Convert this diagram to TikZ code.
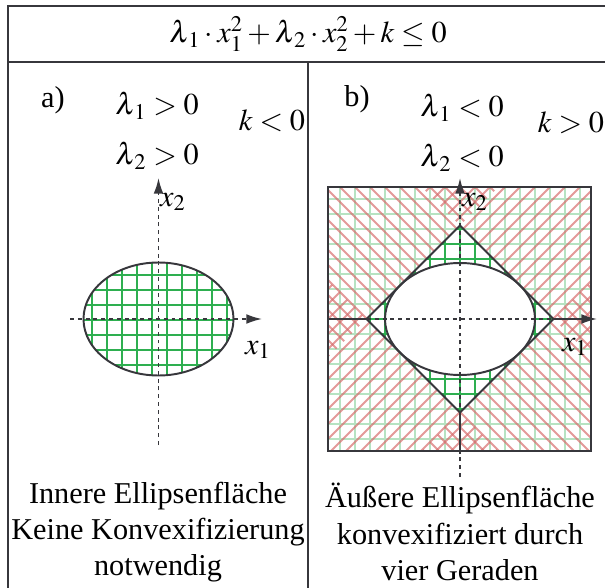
\documentclass[tikz,border=0pt]{standalone}
\usepackage{mathptmx}
\usepackage[no-math]{fontspec}
\setmainfont{Liberation Serif}
\usetikzlibrary{arrows.meta,calc}
\definecolor{gridgreen}{RGB}{46,175,80}
\definecolor{hatchred}{RGB}{215,110,110}
\definecolor{linegray}{RGB}{55,55,60}
\newcommand{\lam}[1]{\lambda_{\mkern2mu#1}}
\tikzset{
  frameline/.style={linegray,line width=1.1pt},
  curveline/.style={linegray,line width=1pt},
  axisline/.style={linegray,line width=.9pt,dash pattern=on 2pt off 2pt},
  axistip/.style={-{Latex[length=8pt,width=5pt]}},
  greengrid/.style={gridgreen,line width=1pt},
  lightgrid/.style={gridgreen,line width=1pt,opacity=.35},
  hatchline/.style={hatchred,line width=1pt,opacity=.7},
  lbl/.style={font=\fontsize{15.5}{18.5}\selectfont}
}
\begin{document}
\begin{tikzpicture}[x=1.8mm,y=1.8mm]
\useasboundingbox (0,0) rectangle (60.5,58.7);
\clip (0,0) rectangle (60.5,58.7);
% table lines
\draw[frameline] (.8,-2) -- (.8,58.1) -- (62,58.1) (.8,52.5) -- (62,52.5) (30.8,52.5) -- (30.8,-2);
\node[lbl] (title) at (30.8,55.3) {$\lam1\cdot x_1^2+\lam2\cdot x_2^2+k\leq 0$};

% a) inner ellipse
\coordinate (O1) at (15.85,26.8);
\coordinate (w1) at (7,26.8);\coordinate (e1) at (26.2,26.8);
\coordinate (s1) at (15.85,14.2);\coordinate (n1) at (15.85,40.9);
\begin{scope}
\clip (O1) ellipse [x radius=7.5,y radius=5.65];
\draw[greengrid,shift={(.17,-.3)}] (6,18) grid[step=1.5] (26,36);
\end{scope}
\draw[curveline] (O1) ellipse [x radius=7.5,y radius=5.65];
\draw[axisline,axistip] (w1) -- (e1);
\draw[axisline,axistip] (s1) -- (n1);
\node[lbl] (x1a) at (25.8,23.7) {$x_1$};
\node[lbl] (x2a) at (17.3,38.5) {$x_2$};
\node[lbl] (tagA) at (5.3,48.7) {a)};
\node[lbl] (l1a) at (15.7,48.1) {$\lam1>0$};
\node[lbl] (l2a) at (15.7,43.1) {$\lam2>0$};
\node[lbl] (ka) at (27.2,46.6) {$k<0$};
\node[lbl,align=center] (capA) at (15.8,5.5) {Innere Ellipsenfläche\\Keine Konvexifizierung\\notwendig};

% b) outer ellipse, four lines
\coordinate (O2) at (46,26.8);
\coordinate (L) at (36.64,26.8);\coordinate (R) at (55.36,26.8);
\coordinate (T) at (46,36.16);\coordinate (B) at (46,17.44);
\coordinate (Rw) at (32.8,26.8);\coordinate (Re) at (59.1,26.8);
\coordinate (Rs) at (46,13.6);\coordinate (Rn) at (46,40);
\coordinate (e2) at (59.7,26.8);
\coordinate (s2) at (46,11);\coordinate (n2) at (46,40.9);
\begin{scope}
\clip (32.8,13.6) rectangle (59.1,40);
\draw[lightgrid,shift={(1,-.2)}] (30,10) grid[step=1.5] (62,43);
\begin{scope}
\clip ($(L)+(-20,-20)$) -- ($(T)+(20,20)$) -- ++(-40,0) -- cycle
      ($(B)+(-20,-20)$) -- ($(R)+(20,20)$) -- ++(0,-40) -- cycle;
\foreach \c in {44,45.5,...,101} \draw[hatchline] ({\c-50},50) -- (\c,0);
\end{scope}
\begin{scope}
\clip ($(T)+(-20,20)$) -- ($(R)+(20,-20)$) -- ++(0,40) -- cycle
      ($(L)+(-20,20)$) -- ($(B)+(20,-20)$) -- ++(-40,0) -- cycle;
\foreach \c in {-48,-46.5,...,9} \draw[hatchline] (30,{30+\c}) -- (62,{62+\c});
\end{scope}
\begin{scope}
\clip (L) -- (T) -- (R) -- (B) -- cycle;
\draw[greengrid,shift={(1,-.2)}] (30,10) grid[step=1.5] (62,43);
\end{scope}
\end{scope}
\fill[white] (O2) ellipse [x radius=7.5,y radius=5.6];
\draw[curveline] (O2) ellipse [x radius=7.5,y radius=5.6];
\draw[curveline] (L) -- (T) -- (R) -- (B) -- cycle;
\draw[frameline] (32.8,13.6) rectangle (59.1,40);
\draw[axisline,axistip] (Rw) -- (e2);
\draw[axisline,axistip] (s2) -- (n2);
\draw[frameline] (Rw) -- (L) (R) -- (Re) (B) -- (Rs);
\node[lbl] (x1b) at (57.5,24) {$x_1$};
\node[lbl] (x2b) at (47.5,38.5) {$x_2$};
\node[lbl] (tagB) at (35.7,48.8) {b)};
\node[lbl] (l1b) at (46.2,47.9) {$\lam1<0$};
\node[lbl] (l2b) at (46.2,42.9) {$\lam2<0$};
\node[lbl] (kb) at (57.1,46.4) {$k>0$};
\node[lbl,align=center] (capB) at (46,5.5) {Äußere Ellipsenfläche\\konvexifiziert durch\\vier Geraden};
\end{tikzpicture}
\end{document}
